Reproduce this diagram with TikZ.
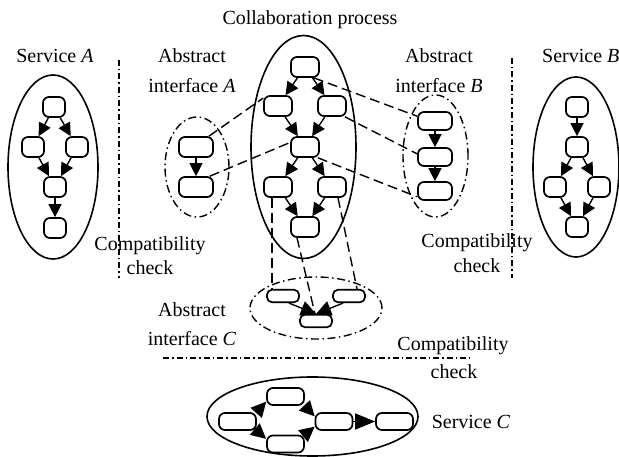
\documentclass[tikz,border=0pt]{standalone}
\usepackage{fontspec}
\setmainfont{Liberation Serif}
\usetikzlibrary{arrows.meta}
\begin{document}
\begin{tikzpicture}[x=1pt,y=-1pt,
  lbl/.style={anchor=base, inner sep=0pt, font=\fontsize{20}{24}\selectfont},
  box/.style={draw, line width=1.7pt, rounded corners=6pt, inner sep=0pt, minimum width=22pt, minimum height=20pt},
  cbox/.style={box, minimum width=28pt},
  abox/.style={box, minimum width=34pt},
  bbox/.style={box, minimum width=34pt, minimum height=18pt},
  ccbox/.style={box, minimum width=32pt, minimum height=12.5pt, rounded corners=5pt},
  scbox/.style={box, minimum width=37pt, minimum height=17pt},
  arr/.style={line width=1.4pt, -{Triangle[length=13pt,width=13pt]}},
  bigarr/.style={line width=1.4pt, -{Triangle[length=15pt,width=15pt]}},
  ell/.style={line width=1.6pt},
  absell/.style={line width=1.4pt, dash pattern=on 8pt off 3.5pt on 1.5pt off 3.5pt},
  ddline/.style={line width=1.4pt, dash pattern=on 6pt off 3pt on 1.5pt off 3pt},
  conn/.style={line width=1.4pt, dash pattern=on 10pt off 5pt}
]
\useasboundingbox (0,0) rectangle (619,457);

% ---------- labels ----------
\node[lbl] (tSA) at (55,63) {Service \textit{A}};
\node[lbl] (tAbsA) at (192,63) {Abstract};
\node[lbl] (tIntA) at (192,93) {interface \textit{A}};
\node[lbl] (tCol) at (310,25) {Collaboration process};
\node[lbl] (tAbsB) at (439,63) {Abstract};
\node[lbl] (tIntB) at (439,93) {interface \textit{B}};
\node[lbl, anchor=base west] (tSB) at (542,63) {Service \textit{B}};
\node[lbl] (tCk1) at (150,251) {Compatibility};
\node[lbl] (tCk1b) at (150,275) {check};
\node[lbl] (tCk2) at (477,248) {Compatibility};
\node[lbl] (tCk2b) at (477,273) {check};
\node[lbl] (tAbsC) at (192,317) {Abstract};
\node[lbl] (tIntC) at (192,345) {interface \textit{C}};
\node[lbl] (tCk3) at (453,350) {Compatibility};
\node[lbl] (tCk3b) at (454,378) {check};
\node[lbl] (tSC) at (471,428) {Service \textit{C}};

% ---------- separators ----------
\coordinate (v1a) at (119,60); \coordinate (v1b) at (119,278);
\coordinate (v2a) at (512,58); \coordinate (v2b) at (512,278);
\coordinate (h1a) at (163,358); \coordinate (h1b) at (470,358);
\draw[ddline] (v1a) -- (v1b);
\draw[ddline] (v2a) -- (v2b);
\draw[ddline] (h1a) -- (h1b);

% ---------- ellipses ----------
\draw[ell] (53,167) ellipse [x radius=45pt, y radius=92pt];
\draw[ell] (303.5,147) ellipse [x radius=52.5pt, y radius=111.5pt];
\draw[ell] (576,167) ellipse [x radius=43pt, y radius=90pt];
\draw[ell] (312.5,416.5) ellipse [x radius=105.5pt, y radius=39.5pt];
\draw[absell] (197,167) ellipse [x radius=32pt, y radius=50pt];
\draw[absell] (435.5,156) ellipse [x radius=32.5pt, y radius=61pt];
\draw[absell] (316,308) ellipse [x radius=66pt, y radius=31pt];

% ---------- Service A ----------
\node[box] (sa1) at (54,107) {};
\node[box] (sa2) at (33,147) {};
\node[box] (sa3) at (77,147) {};
\node[box] (sa4) at (55,187) {};
\node[box] (sa5) at (55,228) {};
\draw[arr] (sa1) -- (sa2);
\draw[arr] (sa1) -- (sa3);
\draw[arr] (sa2) -- (sa4);
\draw[arr] (sa3) -- (sa4);
\draw[arr] (sa4) -- (sa5);

% ---------- Collaboration process ----------
\node[cbox] (c1) at (305,67) {};
\node[cbox] (c2) at (278,106) {};
\node[cbox] (c3) at (332,106) {};
\node[cbox] (c4) at (305,147) {};
\node[cbox] (c5) at (278,187) {};
\node[cbox] (c6) at (332,187) {};
\node[cbox] (c7) at (305,227) {};
\draw[arr] (c1) -- (c2);
\draw[arr] (c1) -- (c3);
\draw[arr] (c2) -- (c4);
\draw[arr] (c3) -- (c4);
\draw[arr] (c4) -- (c5);
\draw[arr] (c4) -- (c6);
\draw[arr] (c5) -- (c7);
\draw[arr] (c6) -- (c7);

% ---------- Abstract interface A ----------
\node[abox] (a1) at (196,147) {};
\node[abox] (a2) at (196,187) {};
\draw[arr] (a1) -- (a2);

% ---------- Abstract interface B ----------
\node[bbox] (b1) at (435,121) {};
\node[bbox] (b2) at (435,157) {};
\node[bbox] (b3) at (435,191) {};
\draw[arr] (b1) -- (b2);
\draw[arr] (b2) -- (b3);

% ---------- Service B ----------
\node[box] (sb1) at (577,107) {};
\node[box] (sb2) at (577,147) {};
\node[box] (sb3) at (555,187) {};
\node[box] (sb4) at (599,187) {};
\node[box] (sb5) at (577,227) {};
\draw[arr] (sb1) -- (sb2);
\draw[arr] (sb2) -- (sb3);
\draw[arr] (sb2) -- (sb4);
\draw[arr] (sb3) -- (sb5);
\draw[arr] (sb4) -- (sb5);

% ---------- Abstract interface C ----------
\node[ccbox] (cc1) at (283,296) {};
\node[ccbox] (cc2) at (349,296) {};
\node[ccbox] (cc3) at (316,321) {};
\draw[bigarr] (cc1.-50) -- (cc3.north);
\draw[bigarr] (cc2.-130) -- (cc3.north);

% ---------- Service C ----------
\node[scbox] (s1) at (237.5,421.5) {};
\node[scbox] (s2) at (285.5,396.5) {};
\node[scbox] (s3) at (285.5,444) {};
\node[scbox] (s4) at (334,421.5) {};
\node[scbox] (s5) at (394.5,421.5) {};
\draw[bigarr] (s1.north east) -- (s2.195);
\draw[bigarr] (s1.south east) -- (s3.165);
\draw[bigarr] (s2.south east) -- (s4.165);
\draw[bigarr] (s3.north east) -- (s4.195);
\draw[line width=1.4pt, -{Triangle[length=20pt,width=16pt]}] (s4) -- (s5);

% ---------- dashed correspondences ----------
\draw[conn] (a1.40) -- (c2.152);
\draw[conn] (a2.38) -- (c4.163);
\draw[conn] (c1.-51) -- (b1.165);
\draw[conn] (c3.-40) -- (b2.170);
\draw[conn] (c4.-40) -- (b3.198);
\draw[conn] ([xshift=-6pt]c5.south) -- ([xshift=-11pt]cc1.north);
\draw[conn] ([xshift=-8pt]c7.south) -- ([xshift=-1pt]cc3.north);
\draw[conn] ([xshift=6pt]c6.south) -- ([xshift=8pt]cc2.north);
\end{tikzpicture}
\end{document}
